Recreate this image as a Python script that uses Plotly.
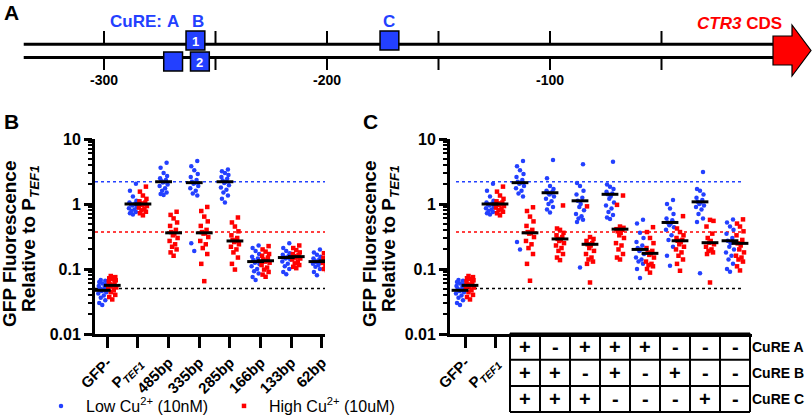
import plotly.graph_objects as go

FONT = "Liberation Sans, Arial, sans-serif"
BLUE = "#2340ff"
RED = "#ff0000"
W, H = 812, 417

# ---------------- Panel A : promoter map ----------------
cure_names = ["A", "B", "B", "C"]
cure_positions = [-269, -259, -257, -172]
cure_strands = ["bottom", "top", "bottom", "top"]
cure_box_labels = ["", "1", "2", ""]
promoter_ticks = [-300, -250, -200, -150, -100, -50]
promoter_tick_labels = ["-300", "", "-200", "", "-100", ""]
promoter_start = -336
cds_start = 0

# ---------------- Panel B : truncations ----------------
b_categories = ["GFP-", "P<sub><i>TEF1</i></sub>", "485bp", "335bp", "285bp", "166bp", "133bp", "62bp"]
b_low = [
    [0.068, 0.066, 0.063, 0.060, 0.058, 0.055, 0.053, 0.050, 0.047, 0.046, 0.044, 0.042, 0.039, 0.036, 0.033, 0.030, 0.028],
    [2.05, 1.6, 1.3, 1.12, 1.05, 1.02, 1.0, 0.98, 0.95, 0.9, 0.86, 0.82, 0.78, 0.75, 0.72, 0.69],
    [4.3, 3.6, 3.0, 2.7, 2.5, 2.35, 2.25, 2.2, 2.15, 2.0, 1.9, 1.75, 1.6, 1.5, 1.42, 1.37],
    [4.6, 3.8, 3.3, 2.9, 2.6, 2.35, 2.2, 2.13, 2.05, 1.9, 1.75, 1.6, 1.45, 1.35, 0.25, 0.19],
    [3.4, 3.2, 3.0, 2.8, 2.6, 2.45, 2.3, 2.2, 2.1, 1.95, 1.8, 1.65, 1.5, 1.35, 1.2, 1.05],
    [0.23, 0.21, 0.19, 0.17, 0.155, 0.145, 0.138, 0.13, 0.125, 0.118, 0.11, 0.1, 0.092, 0.085, 0.075, 0.068],
    [0.25, 0.21, 0.19, 0.175, 0.165, 0.158, 0.152, 0.15, 0.145, 0.14, 0.13, 0.12, 0.11, 0.1, 0.09, 0.083],
    [0.2, 0.18, 0.165, 0.155, 0.145, 0.14, 0.135, 0.13, 0.128, 0.125, 0.12, 0.115, 0.108, 0.1, 0.09, 0.08],
]
b_high = [
    [0.078, 0.075, 0.072, 0.070, 0.067, 0.064, 0.061, 0.058, 0.056, 0.054, 0.052, 0.050, 0.047, 0.044, 0.040, 0.037, 0.034],
    [1.85, 1.55, 1.35, 1.2, 1.1, 1.05, 1.02, 1.0, 0.97, 0.93, 0.88, 0.84, 0.8, 0.76, 0.72, 0.67],
    [0.76, 0.68, 0.6, 0.52, 0.46, 0.4, 0.37, 0.35, 0.33, 0.3, 0.27, 0.24, 0.22, 0.2, 0.18, 0.16],
    [0.9, 0.78, 0.64, 0.54, 0.46, 0.4, 0.37, 0.36, 0.35, 0.31, 0.27, 0.24, 0.21, 0.17, 0.12, 0.065],
    [0.62, 0.52, 0.45, 0.38, 0.33, 0.3, 0.28, 0.27, 0.26, 0.24, 0.22, 0.2, 0.18, 0.15, 0.12, 0.098],
    [0.225, 0.2, 0.185, 0.17, 0.16, 0.15, 0.14, 0.134, 0.13, 0.125, 0.115, 0.105, 0.098, 0.09, 0.082, 0.076],
    [0.23, 0.21, 0.195, 0.18, 0.17, 0.163, 0.158, 0.155, 0.15, 0.145, 0.14, 0.13, 0.122, 0.115, 0.108, 0.103],
    [0.185, 0.175, 0.165, 0.155, 0.148, 0.142, 0.138, 0.135, 0.132, 0.128, 0.124, 0.12, 0.115, 0.108, 0.1, 0.096],
]
b_low_median = [0.047, 1.0, 2.2, 2.13, 2.2, 0.13, 0.15, 0.13]
b_high_median = [0.056, 1.0, 0.36, 0.36, 0.27, 0.134, 0.155, 0.133]

# ---------------- Panel C : CuRE combinations ----------------
c_categories = ["GFP-", "P<sub><i>TEF1</i></sub>"]
c_cure_rows = ["CuRE A", "CuRE B", "CuRE C"]
c_cure_a = ["+", "-", "+", "+", "+", "-", "-", "-"]
c_cure_b = ["+", "+", "-", "+", "-", "+", "-", "-"]
c_cure_c = ["+", "+", "+", "-", "-", "-", "+", "-"]
c_low = [
    [0.068, 0.066, 0.063, 0.060, 0.058, 0.055, 0.053, 0.050, 0.047, 0.046, 0.044, 0.042, 0.039, 0.036, 0.033, 0.030, 0.028],
    [2.05, 1.6, 1.3, 1.12, 1.05, 1.02, 1.0, 0.98, 0.95, 0.9, 0.86, 0.82, 0.78, 0.75, 0.72, 0.69],
    [4.6, 3.8, 3.3, 2.9, 2.6, 2.35, 2.2, 2.13, 2.05, 1.9, 1.75, 1.6, 1.45, 1.3, 0.26, 0.2],
    [4.75, 2.5, 1.9, 1.7, 1.6, 1.55, 1.5, 1.45, 1.4, 1.3, 1.2, 1.1, 1.0, 0.9, 0.82, 0.74],
    [4.08, 2.1, 1.9, 1.6, 1.4, 1.25, 1.12, 1.0, 0.9, 0.8, 0.7, 0.65, 0.6, 0.57, 0.53, 0.105],
    [4.47, 2.0, 1.85, 1.7, 1.55, 1.45, 1.41, 1.3, 1.2, 1.05, 0.95, 0.85, 0.75, 0.68, 0.62, 0.59],
    [0.57, 0.5, 0.36, 0.3, 0.26, 0.23, 0.21, 0.2, 0.19, 0.17, 0.15, 0.14, 0.13, 0.12, 0.1, 0.073],
    [1.15, 1.0, 0.85, 0.7, 0.6, 0.56, 0.52, 0.5, 0.47, 0.44, 0.4, 0.33, 0.28, 0.22, 0.16, 0.112],
    [3.1, 1.7, 1.6, 1.4, 1.25, 1.15, 1.08, 1.05, 1.0, 0.95, 0.9, 0.82, 0.7, 0.6, 0.53, 0.086],
    [0.58, 0.52, 0.45, 0.4, 0.35, 0.3, 0.272, 0.25, 0.22, 0.2, 0.18, 0.16, 0.14, 0.12, 0.1, 0.091],
]
c_high = [
    [0.078, 0.075, 0.072, 0.070, 0.067, 0.064, 0.061, 0.058, 0.056, 0.054, 0.052, 0.050, 0.047, 0.044, 0.040, 0.037, 0.034],
    [1.85, 1.55, 1.35, 1.2, 1.1, 1.05, 1.02, 1.0, 0.97, 0.93, 0.88, 0.84, 0.8, 0.76, 0.72, 0.67],
    [0.89, 0.78, 0.64, 0.54, 0.46, 0.4, 0.37, 0.36, 0.35, 0.31, 0.27, 0.24, 0.21, 0.17, 0.12, 0.066],
    [0.95, 0.42, 0.4, 0.36, 0.33, 0.31, 0.29, 0.28, 0.27, 0.25, 0.23, 0.21, 0.19, 0.17, 0.15, 0.137],
    [0.92, 0.31, 0.29, 0.27, 0.25, 0.24, 0.23, 0.21, 0.19, 0.17, 0.15, 0.14, 0.13, 0.12, 0.062],
    [1.35, 0.97, 0.45, 0.43, 0.41, 0.4, 0.38, 0.36, 0.33, 0.3, 0.25, 0.23, 0.2, 0.17, 0.15, 0.14],
    [0.44, 0.37, 0.3, 0.25, 0.21, 0.19, 0.18, 0.174, 0.165, 0.15, 0.13, 0.12, 0.115, 0.11, 0.1, 0.088],
    [0.65, 0.42, 0.37, 0.33, 0.3, 0.28, 0.272, 0.26, 0.24, 0.22, 0.2, 0.18, 0.16, 0.14, 0.12, 0.094],
    [0.57, 0.55, 0.45, 0.35, 0.3, 0.27, 0.254, 0.24, 0.22, 0.2, 0.19, 0.18, 0.17, 0.062],
    [0.58, 0.5, 0.45, 0.38, 0.33, 0.28, 0.248, 0.23, 0.2, 0.18, 0.16, 0.15, 0.14, 0.13, 0.11, 0.095],
]
c_low_median = [0.047, 1.0, 2.13, 1.49, 1.12, 1.41, 0.2, 0.52, 1.08, 0.272]
c_high_median = [0.056, 1.0, 0.36, 0.29, 0.24, 0.41, 0.174, 0.272, 0.254, 0.248]

ref_line_values = [2.2, 0.37, 0.05]
ref_line_colors = [BLUE, RED, "black"]
y_tick_values = [0.01, 0.1, 1, 10]
y_tick_labels = ["0.01", "0.1", "1", "10"]
y_title_lines = ["GFP Fluorescence", "Relative to P<sub><i>TEF1</i></sub>"]
series_names = ["Low Cu<sup>2+</sup> (10nM)", "High Cu<sup>2+</sup> (10uM)"]

# ---------------- layout geometry (pixels) ----------------
def fx(px):
    return px / W

def fy(px):
    return 1 - px / H

PX_PER_BP = 2.23
CDS_PX = 773
B_DOM = (95, 325)
B_RANGE = (-0.4, 7.1)
C_DOM = (450, 752)
C_RANGE = (-0.5, -0.5 + (752 - 450) / 30.0)
Y_TOP, Y_BOT = 139, 334

fig = go.Figure()

JITTER_PX = [0, -3, 3, -1.5, 1.5, -4, 4, -0.7, 0.7, -2.3, 2.3, -3.5, 3.5]
SIDE_PX = 5


def strip_xy(values_by_cat, side, pxu):
    xs, ys = [], []
    for i, vals in enumerate(values_by_cat):
        order = sorted(range(len(vals)), key=lambda k: vals[k])
        for rank, k in enumerate(order):
            xs.append(i + (side * SIDE_PX + JITTER_PX[rank % len(JITTER_PX)]) / pxu)
            ys.append(vals[k])
    return xs, ys


def add_panel(lows, highs, low_med, high_med, xa, ya, pxu, legend):
    for side, data, color, sym, name in [
        (-1, lows, BLUE, "circle", series_names[0]),
        (1, highs, RED, "square", series_names[1]),
    ]:
        xs, ys = strip_xy(data, side, pxu)
        fig.add_trace(go.Scatter(
            x=xs, y=ys, mode="markers", name=name, showlegend=legend,
            marker=dict(color=color, size=4.5, symbol=sym, line=dict(width=0)),
            xaxis=xa, yaxis=ya, hoverinfo="skip"))
    for side, med in [(-1, low_med), (1, high_med)]:
        fig.add_trace(go.Scatter(
            x=[i + side * SIDE_PX / pxu for i in range(len(med))], y=med,
            mode="markers", showlegend=False,
            marker=dict(symbol="line-ew", size=12, line=dict(width=3, color="black")),
            xaxis=xa, yaxis=ya, hoverinfo="skip"))


b_pxu = (B_DOM[1] - B_DOM[0]) / (B_RANGE[1] - B_RANGE[0])
c_pxu = 30.0
add_panel(b_low, b_high, b_low_median, b_high_median, "x2", "y2", b_pxu, True)
add_panel(c_low, c_high, c_low_median, c_high_median, "x3", "y3", c_pxu, False)

shapes = []
annotations = []

# ---- Panel A drawing ----
TOP_LINE, BOT_LINE = 44.3, 57.5
for yy in (TOP_LINE, BOT_LINE):
    shapes.append(dict(type="line", xref="x", yref="y", x0=promoter_start, x1=cds_start,
                       y0=yy, y1=yy, line=dict(color="black", width=3), layer="above"))
for t, lab in zip(promoter_ticks, promoter_tick_labels):
    shapes.append(dict(type="line", xref="x", yref="y", x0=t, x1=t, y0=31, y1=TOP_LINE,
                       line=dict(color="black", width=2)))
    shapes.append(dict(type="line", xref="x", yref="y", x0=t, x1=t, y0=BOT_LINE, y1=70,
                       line=dict(color="black", width=2)))
    if lab:
        annotations.append(dict(xref="x", yref="y", x=t, y=80, text=lab, showarrow=False,
                                xanchor="center", yanchor="middle",
                                font=dict(family=FONT, size=14, color="black", weight="bold")))
half_w = 9.4 / PX_PER_BP
for nm, pos, strand, bl in zip(cure_names, cure_positions, cure_strands, cure_box_labels):
    y0, y1 = (31, 50) if strand == "top" else (52, 71)
    shapes.append(dict(type="rect", xref="x", yref="y", x0=pos - half_w, x1=pos + half_w,
                       y0=y0, y1=y1, fillcolor=BLUE, line=dict(color="black", width=1.5),
                       layer="above"))
    if bl:
        annotations.append(dict(xref="x", yref="y", x=pos, y=(y0 + y1) / 2 + 0.5, text=bl,
                                showarrow=False, xanchor="center", yanchor="middle",
                                font=dict(family=FONT, size=13, color="white", weight="bold")))
# CuRE letters
seen = {}
for nm, pos in zip(cure_names, cure_positions):
    seen.setdefault(nm, []).append(pos)
for nm, plist in seen.items():
    annotations.append(dict(xref="x", yref="y", x=sum(plist) / len(plist), y=21, text=nm,
                            showarrow=False, xanchor="center", yanchor="middle",
                            font=dict(family=FONT, size=17, color=BLUE, weight="bold")))
annotations.append(dict(xref="x", yref="y", x=seen["A"][0], y=21, text="CuRE:", xanchor="right",
                        yanchor="middle", xshift=-9, showarrow=False,
                        font=dict(family=FONT, size=17, color=BLUE, weight="bold")))
# CDS arrow
bw = 19 / PX_PER_BP
shapes.append(dict(type="path", xref="x", yref="y",
                   path=(f"M {cds_start},36 L {cds_start + bw},36 L {cds_start + bw},25 "
                         f"L {cds_start + 2 * bw},50.5 L {cds_start + bw},76 L {cds_start + bw},65 "
                         f"L {cds_start},65 Z"),
                   fillcolor=RED, line=dict(color="black", width=1.2), layer="above"))
annotations.append(dict(xref="x", yref="y", x=cds_start, y=23, text="<i>CTR3</i> CDS",
                        xanchor="right", yanchor="middle", xshift=11, showarrow=False,
                        font=dict(family=FONT, size=17, color=RED, weight="bold")))

# ---- reference dotted lines ----
for v, col in zip(ref_line_values, ref_line_colors):
    shapes.append(dict(type="line", xref="x2", yref="y2", x0=B_RANGE[0], x1=B_RANGE[1] + 0.3,
                       y0=v, y1=v, line=dict(color=col, width=1.6, dash="dot"), layer="below"))
    shapes.append(dict(type="line", xref="x3", yref="y3", x0=-0.3, x1=9.3,
                       y0=v, y1=v, line=dict(color=col, width=1.6, dash="dot"), layer="below"))

# ---- Panel C table ----
T_ROWS = [333.5, 359.7, 386, 412]
n_ctrl = len(c_categories)
n_cols = len(c_cure_a)
x_left, x_right = n_ctrl - 0.5, n_ctrl + n_cols - 0.5
for yy in T_ROWS:
    shapes.append(dict(type="line", xref="x3", yref="y", x0=x_left, x1=x_right, y0=yy, y1=yy,
                       line=dict(color="black", width=2)))
for k in range(n_cols + 1):
    xx = x_left + k
    shapes.append(dict(type="line", xref="x3", yref="y", x0=xx, x1=xx, y0=T_ROWS[0], y1=T_ROWS[-1],
                       line=dict(color="black", width=2)))
for r, row in enumerate([c_cure_a, c_cure_b, c_cure_c]):
    yc = (T_ROWS[r] + T_ROWS[r + 1]) / 2
    for k, s in enumerate(row):
        annotations.append(dict(xref="x3", yref="y", x=n_ctrl + k, y=yc, text=s, showarrow=False,
                                xanchor="center", yanchor="middle",
                                font=dict(family=FONT, size=20, color="black", weight="bold")))
    annotations.append(dict(xref="x3", yref="y", x=x_right, y=yc, text=c_cure_rows[r],
                            xanchor="left", yanchor="middle", xshift=0, showarrow=False,
                            font=dict(family=FONT, size=14, color="black", weight="bold")))

# ---- panel letters & y titles ----
for letter, px, py in [("A", 11, 12), ("B", 11, 122), ("C", 370, 122)]:
    annotations.append(dict(xref="paper", yref="paper", x=fx(px), y=fy(py), text=letter,
                            showarrow=False, xanchor="center", yanchor="middle",
                            font=dict(family=FONT, size=21, color="black", weight="bold")))
for x1, x2 in ((9, 30), (369, 390)):
    for txt, px, py in ((y_title_lines[0], x1, 244), (y_title_lines[1], x2, 239)):
        annotations.append(dict(xref="paper", yref="paper", x=fx(px), y=fy(py),
                                text=txt, textangle=-90, showarrow=False,
                                xanchor="center", yanchor="middle",
                                font=dict(family=FONT, size=19, color="black", weight="bold")))

minor_vals = [m * 10 ** e for e in (-2, -1, 0) for m in range(2, 10)]

def yaxis_cfg(anchor):
    return dict(
        type="log", range=[-2, 1], domain=[fy(Y_BOT), fy(Y_TOP)], anchor=anchor,
        tickmode="array", tickvals=y_tick_values, ticktext=y_tick_labels,
        ticks="outside", ticklen=8, tickwidth=2.5, tickcolor="black",
        showline=True, linewidth=3, linecolor="black", showgrid=False, zeroline=False,
        tickfont=dict(family=FONT, size=16, color="black", weight="bold"),
        minor=dict(tickmode="array", tickvals=minor_vals, ticks="outside", ticklen=4,
                   tickwidth=1.5, tickcolor="black", showgrid=False),
        fixedrange=True, automargin=False,
    )

def xaxis_cfg(dom, rng, anchor, labels):
    return dict(
        domain=[fx(dom[0]), fx(dom[1])], range=list(rng), anchor=anchor,
        tickmode="array", tickvals=list(range(len(labels))), ticktext=labels, tickangle=-45,
        ticks="outside", ticklen=11, tickwidth=2.5, tickcolor="black",
        showline=True, linewidth=3, linecolor="black", showgrid=False, zeroline=False,
        tickfont=dict(family=FONT, size=15, color="black", weight="bold"),
        fixedrange=True, automargin=False,
    )

fig.update_layout(
    width=W, height=H, margin=dict(l=0, r=0, t=0, b=0, pad=0, autoexpand=False),
    paper_bgcolor="white", plot_bgcolor="rgba(0,0,0,0)",
    font=dict(family=FONT, color="black"),
    xaxis=dict(domain=[0, 1], range=[-CDS_PX / PX_PER_BP, (W - CDS_PX) / PX_PER_BP],
               visible=False, fixedrange=True, automargin=False),
    yaxis=dict(domain=[0, 1], range=[H, 0], visible=False, fixedrange=True, automargin=False),
    xaxis2=xaxis_cfg(B_DOM, B_RANGE, "y2", b_categories),
    yaxis2=yaxis_cfg("x2"),
    xaxis3=xaxis_cfg(C_DOM, C_RANGE, "y3", c_categories),
    yaxis3=yaxis_cfg("x3"),
    shapes=shapes,
    annotations=annotations,
    showlegend=True,
    legend=dict(orientation="h", x=fx(36), y=fy(406), yanchor="middle", xanchor="left",
                font=dict(family=FONT, size=16, color="black"), entrywidth=128,
                itemwidth=40, bgcolor="rgba(0,0,0,0)", itemsizing="trace"),
)

fig.write_html("out.html", config={"displayModeBar": False},
               post_script="document.body.style.margin='0';")
